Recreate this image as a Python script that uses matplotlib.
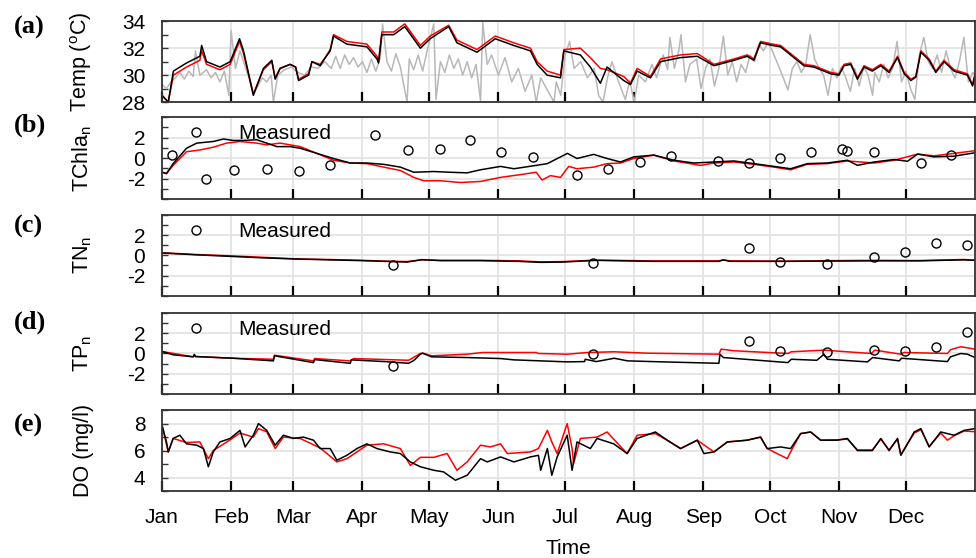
import matplotlib
matplotlib.use('Agg')
import matplotlib.pyplot as plt
from matplotlib.lines import Line2D
from matplotlib.ticker import MultipleLocator

plt.rcParams['font.family'] = ['Liberation Sans', 'DejaVu Sans']
plt.rcParams['mathtext.fontset'] = 'custom'
plt.rcParams['mathtext.rm'] = 'Liberation Sans'
plt.rcParams['mathtext.it'] = 'Liberation Sans:italic'
plt.rcParams['axes.unicode_minus'] = False

# ---------------- data ----------------
month_starts = [0, 31, 59, 90, 120, 151, 181, 212, 243, 273, 304, 334]
month_labels = ['Jan', 'Feb', 'Mar', 'Apr', 'May', 'Jun', 'Jul', 'Aug', 'Sep', 'Oct', 'Nov', 'Dec']

# (a) temperature
temp_days = [0, 2.8, 5.1, 11, 17, 17.8, 20, 26, 30.6, 34.8,
             36.6, 41, 45.5, 49.3, 50.8, 53, 57.5, 60, 61.3, 65.8,
             67.3, 71, 73.3, 75.5, 77, 83, 92, 96.5, 97.2, 98.7,
             104, 109, 116, 120.4, 128.7, 132.4, 141.4, 149.6, 157.9, 165.4,
             168.4, 172.9, 178.9, 180.4, 187.8, 192.3, 196.8, 199.8, 207.3, 210.3,
             213.3, 219.3, 223.8, 232.8, 240.3, 247.8, 256.8, 262.7, 265.7, 268.7,
             274.1, 277.7, 283.7, 288.2, 292.7, 300.2, 303.9, 306.2, 309.2, 312.2,
             315.2, 318.9, 322.7, 326.4, 330.2, 333.2, 336.2, 338.4, 340.7, 344.4,
             347.4, 351.1, 355.6, 361.6, 363.9, 365]
temp_black = [28.5, 28.0, 30.3, 30.9, 31.4, 32.2, 31.0, 30.6, 31.0, 32.7,
              31.8, 28.5, 30.5, 31.1, 29.7, 30.5, 30.8, 30.6, 29.6, 30.0,
              31.0, 30.7, 31.3, 31.8, 32.9, 32.3, 32.1, 31.2, 30.9, 33.0,
              33.0, 33.6, 32.0, 32.7, 33.6, 32.4, 31.7, 32.7, 32.2, 31.8,
              30.8, 30.0, 29.8, 31.8, 31.5, 30.6, 29.4, 30.6, 29.6, 29.3,
              30.3, 29.8, 31.0, 31.3, 31.4, 30.7, 31.1, 31.4, 31.1, 32.4,
              32.2, 32.1, 31.3, 30.7, 30.6, 30.1, 30.0, 30.7, 30.8, 29.7,
              30.6, 30.3, 30.7, 30.2, 31.3, 30.1, 29.6, 29.85, 31.7, 31.1,
              30.2, 31.0, 30.3, 30.0, 29.2, 30.0]
temp_red = [28.5, 28.0, 30.0, 30.6, 31.1, 31.8, 30.8, 30.4, 30.8, 32.5,
            31.6, 28.6, 30.4, 31.0, 29.8, 30.5, 30.8, 30.6, 29.7, 30.1,
            31.0, 30.8, 31.3, 31.9, 33.0, 32.5, 32.3, 31.4, 31.0, 33.2,
            33.2, 33.8, 32.2, 32.9, 33.7, 32.6, 31.9, 32.9, 32.4, 32.0,
            31.0, 30.3, 30.0, 31.9, 32.0, 31.3, 30.5, 30.4, 29.9, 29.4,
            30.5, 29.9, 31.2, 31.5, 31.6, 30.8, 31.2, 31.5, 31.2, 32.5,
            32.3, 32.2, 31.4, 30.8, 30.7, 30.2, 30.1, 30.8, 30.9, 29.8,
            30.7, 30.4, 30.8, 30.3, 31.4, 30.2, 29.7, 29.9, 31.8, 31.2,
            30.3, 31.1, 30.4, 30.1, 29.3, 30.1]
gray_days = [0, 2, 4, 6, 8, 10, 12, 14, 15, 17,
             20, 22, 24, 26, 28, 30, 31, 33, 35, 37,
             39, 41, 43, 45, 47, 49, 50, 52, 55, 58,
             61, 64, 67, 70, 73, 76, 78, 80, 82, 84,
             86, 88, 90, 92, 94, 96, 98, 99, 101, 103,
             105, 107, 110, 111, 113, 115, 117, 119, 122, 123,
             125, 127, 129, 131, 133, 135, 137, 139, 141, 143,
             144, 146, 148, 151, 154, 157, 160, 163, 166, 168,
             170, 172, 176, 177, 179, 181, 183, 185, 188, 191,
             194, 196, 198, 200, 202, 205, 208, 210, 212, 214,
             217, 220, 222, 225, 227, 228, 230, 232, 233, 235,
             237, 240, 242, 244, 246, 248, 250, 252, 254, 256,
             258, 260, 262, 264, 266, 268, 270, 272, 274, 276,
             278, 281, 283, 285, 287, 289, 291, 293, 295, 297,
             299, 301, 303, 305, 307, 309, 311, 313, 315, 317,
             319, 320, 322, 324, 326, 328, 330, 332, 334, 336,
             338, 340, 342, 344, 346, 348, 350, 352, 354, 356,
             358, 360, 362, 364, 365]
gray_vals = [29.3, 29.0, 29.5, 29.8, 30.2, 29.7, 30.3, 29.9, 31.8, 30.0,
             30.4, 29.8, 30.2, 29.5, 30.3, 28.5, 33.3, 30.5, 31.8, 30.8,
             29.8, 28.6, 29.2, 29.8, 29.5, 30.0, 28.0, 30.0, 30.4, 30.6,
             30.2, 30.0, 30.6, 30.5, 31.0, 30.5, 31.4, 30.5, 31.5, 30.8,
             31.3, 30.6, 31.0, 30.2, 31.2, 30.3, 31.3, 33.8, 31.0, 30.3,
             31.6, 30.6, 28.0, 31.2, 30.4, 31.5, 30.3, 31.8, 33.8, 28.2,
             31.0, 30.2, 31.5, 30.5, 31.2, 30.0, 31.0, 29.8, 30.8, 28.1,
             33.9, 30.8, 31.5, 30.0, 31.3, 29.5, 30.5, 28.8, 30.0, 28.0,
             29.8, 29.2, 28.0, 29.5, 28.5, 31.5, 32.5, 30.5, 31.0, 29.8,
             30.5, 28.5, 28.0, 29.8, 31.0, 29.5, 28.2, 29.6, 28.0, 30.0,
             29.5, 30.8, 29.8, 31.5, 30.4, 32.8, 30.5, 31.8, 33.0, 29.5,
             30.8, 31.2, 29.0, 30.5, 31.2, 29.2, 30.5, 32.9, 30.0, 31.0,
             29.5, 30.8, 30.2, 31.5, 31.0, 32.3, 31.8, 32.4, 31.8, 31.0,
             30.2, 28.9, 30.5, 31.0, 30.2, 30.8, 33.0, 31.2, 30.5, 30.0,
             28.5, 30.5, 29.8, 30.6, 29.8, 28.8, 30.5, 29.2, 30.6, 30.0,
             28.5, 30.2, 29.5, 30.8, 29.8, 30.5, 32.5, 29.5, 30.3, 29.0,
             28.2, 31.5, 32.8, 31.0, 30.5, 31.5, 30.2, 31.8, 30.5, 29.8,
             31.0, 32.8, 29.5, 30.2, 30.0]

# (b) TChla_n
chl_black_days = [0, 2, 5, 11, 15.6, 23, 27.6, 32, 36.6, 42.5,
                  47, 51.5, 57.5, 62, 69.5, 77, 84.5, 92, 99.5, 107,
                  113, 122, 129, 137, 143, 152, 158, 168, 173, 182,
                  186.3, 193.8, 199.8, 205.8, 211.8, 220.8, 229.8, 238.8, 247.8, 256.8,
                  265.7, 274.7, 282.2, 289.7, 298.7, 307.7, 312.2, 319.7, 328.7, 334.7,
                  339.2, 346.6, 355.6, 365]
chl_black = [-1.37, -1.5, -0.53, 0.97, 1.47, 1.63, 1.87, 1.73, 1.73, 1.8,
             1.47, 1.13, 1.13, 0.97, 0.47, -0.03, -0.47, -0.47, -0.6, -0.87,
             -1.37, -1.3, -1.37, -1.43, -1.13, -0.8, -1.03, -0.7, -0.53, 0.47,
             -0.03, 0.37, -0.03, -0.37, 0.13, 0.3, -0.2, -0.47, -0.37, -0.27,
             -0.53, -0.8, -1.03, -0.53, -0.47, -0.2, -0.7, -0.37, -0.13, -0.3,
             0.4, 0.13, 0.2, 0.53]
chl_red_days = [0, 2, 5, 11, 17, 23, 29, 35, 42.5, 47,
                53, 57.5, 62, 69.5, 77, 84.5, 92, 99.5, 107, 113,
                117.5, 125, 134, 143, 152, 161, 168, 170.6, 174.4, 178.9,
                182.6, 186.3, 193.8, 199.8, 205.8, 211.8, 220.8, 229.8, 241.8, 247.8,
                256.8, 265.7, 274.7, 282.2, 289.7, 298.7, 307.7, 319.7, 328.7, 339.2,
                346.6, 355.6, 365]
chl_red = [-1.37, -1.5, -0.7, 0.63, 0.8, 1.07, 1.47, 1.63, 1.47, 1.3,
           1.47, 1.3, 1.13, 0.47, -0.2, -0.47, -0.53, -0.87, -1.2, -1.87,
           -2.2, -2.2, -2.37, -2.27, -1.87, -1.6, -1.37, -2.13, -1.7, -1.87,
           -0.8, -1.03, -0.87, -0.53, -0.47, -0.03, 0.3, -0.27, -0.7, -0.47,
           -0.37, -0.6, -0.87, -1.13, -0.6, -0.53, -0.27, -0.47, -0.2, 0.4,
           0.23, 0.47, 0.73]
chl_meas_days = [4.6, 19.6, 32.5, 47.3, 61.6, 75.5, 95.7, 110.3, 124.6, 138.4,
                 152.3, 166.4, 186.3, 200.3, 214.5, 228.4, 249.6, 263.5, 277.4, 291.5,
                 305.4, 307.4, 319.7, 340.7, 354.1]
chl_meas = [0.3, -2.03, -1.13, -1.07, -1.23, -0.63, 2.23, 0.83, 0.87, 1.73,
            0.63, 0.07, -1.6, -1.1, -0.37, 0.23, -0.27, -0.47, 0.0, 0.57,
            0.9, 0.73, 0.57, -0.47, 0.3]

# (c) TN_n
tn_days = [0, 15, 30, 45, 60, 75, 90, 100, 110, 116.7,
           125, 143, 160, 170, 180, 195, 220, 250, 252, 255,
           280, 300, 320, 340, 360, 365]
tn_black = [0.23, 0.05, -0.1, -0.25, -0.37, -0.45, -0.53, -0.6, -0.67, -0.43,
            -0.53, -0.53, -0.6, -0.7, -0.67, -0.5, -0.6, -0.6, -0.45, -0.6,
            -0.6, -0.57, -0.55, -0.55, -0.45, -0.5]
tn_red = [0.25, 0.08, -0.05, -0.2, -0.35, -0.42, -0.5, -0.58, -0.62, -0.45,
          -0.5, -0.5, -0.55, -0.65, -0.62, -0.48, -0.55, -0.55, -0.47, -0.55,
          -0.58, -0.53, -0.5, -0.52, -0.42, -0.48]
tn_meas_days = [103.7, 193.5, 263.5, 277.4, 298.7, 319.7, 333.5, 347.4, 361.6]
tn_meas = [-0.97, -0.8, 0.7, -0.7, -0.87, -0.13, 0.3, 1.23, 1.03]

# (d) TP_n
tp_black_days = [0, 5, 14, 14.5, 15, 32, 50, 50.5, 68, 68.5,
                 84.5, 85, 100, 110.7, 113, 116, 117, 121, 137, 152,
                 158, 182, 189.7, 190, 195, 203, 209, 225, 250, 250.5,
                 252, 281, 282.5, 294, 297.2, 298.7, 316.7, 319, 331, 332,
                 352.6, 354, 358.6, 361.6, 365]
tp_black = [0.2, -0.13, -0.33, -0.1, -0.3, -0.47, -0.73, -0.23, -0.9, -0.6,
            -0.97, -0.63, -0.8, -0.97, -0.7, -0.07, 0.03, -0.33, -0.4, -0.5,
            -0.63, -0.83, -0.8, -0.57, -0.8, -0.47, -0.73, -0.83, -0.97, -0.07,
            -0.4, -0.9, -0.57, -0.67, -0.07, -0.57, -0.83, -0.4, -0.73, -0.47,
            -0.8, -0.33, 0.0, -0.07, -0.4]
tp_red_days = [0, 14, 14.5, 15, 32, 50, 50.5, 68, 68.5, 84.5,
               86, 110.7, 116, 117, 121, 137, 144, 152, 168, 169,
               182, 191, 203, 218, 250, 251, 256.8, 281, 282.5, 297.2,
               318.5, 320, 331.7, 333, 352.6, 354, 358.6, 365]
tp_red = [0.2, -0.33, -0.1, -0.3, -0.47, -0.57, -0.17, -0.73, -0.5, -0.73,
          -0.5, -0.67, 0.0, 0.03, -0.23, -0.07, 0.1, 0.1, 0.1, 0.0,
          -0.07, 0.1, 0.17, 0.03, -0.07, 0.43, 0.27, 0.0, 0.17, 0.33,
          0.0, 0.33, -0.07, 0.1, 0.0, 0.37, 0.67, 0.43]
tp_meas_days = [103.7, 193.5, 263.5, 277.4, 298.7, 319.7, 333.5, 347.4, 361.6]
tp_meas = [-1.23, -0.07, 1.2, 0.27, 0.1, 0.37, 0.2, 0.63, 2.1]

# (e) DO
do_black_days = [0, 2, 2.8, 5, 8, 11, 15.6, 18.6, 20.8, 23,
                 26, 30.6, 35, 37.3, 41, 43.3, 47, 50.8, 54.5, 59,
                 63.5, 68, 71, 75.5, 78.5, 83, 87.5, 92, 96.5, 102.5,
                 107, 111.5, 116, 122, 126.4, 131.7, 137, 143, 146, 152,
                 158, 165.4, 169, 170, 173, 175, 177.4, 181.9, 184.1, 186.3,
                 192.3, 195.3, 202.8, 208.8, 213.3, 221.5, 226.8, 232.8, 240.3, 243.3,
                 247.8, 253.8, 262.7, 268.7, 271.7, 277.7, 282.2, 286.7, 291.2, 295.7,
                 303.2, 307.7, 312.2, 318.9, 322.7, 326.4, 330.2, 331.7, 337.7, 340.7,
                 344.4, 349.6, 355.6, 360.1, 365]
do_black = [7.88, 6.64, 5.9, 6.9, 7.14, 6.5, 6.4, 6.15, 4.8, 5.9,
            6.64, 6.9, 7.5, 6.27, 7.14, 8.0, 7.5, 6.4, 7.14, 6.9,
            7.0, 6.77, 6.15, 6.15, 5.28, 5.65, 6.15, 6.5, 6.15, 5.9,
            5.78, 5.16, 4.8, 4.54, 4.42, 3.8, 4.17, 5.4, 5.16, 5.53,
            5.16, 5.53, 5.65, 4.54, 6.15, 4.17, 5.53, 7.14, 4.54, 6.64,
            6.15, 6.9, 6.5, 5.78, 6.9, 7.38, 6.77, 6.15, 6.77, 5.78,
            5.9, 6.64, 6.77, 7.0, 6.15, 6.27, 6.15, 7.26, 7.38, 6.77,
            6.77, 6.9, 6.0, 6.0, 6.9, 6.0, 6.9, 5.65, 7.38, 7.63,
            6.27, 7.38, 7.14, 7.5, 7.63]
do_red_days = [0, 2.8, 5, 11, 17, 20.8, 23, 30.6, 35, 41,
               43.3, 47, 50.8, 54.5, 62, 71, 78.5, 83, 92, 99.5,
               107, 111.5, 116, 122, 128, 132.4, 137, 143, 147.4, 152,
               155, 165.4, 169, 173, 175, 177.4, 181.9, 184.1, 184.8, 187.8,
               195.3, 199.8, 208.8, 213.3, 221.5, 226.8, 232.8, 240.3, 247.8, 253.8,
               262.7, 268.7, 271.7, 280.7, 282.2, 286.7, 291.2, 295.7, 303.2, 307.7,
               312.2, 318.9, 322.7, 326.4, 330.2, 331.7, 337.7, 340.7, 344.4, 349.6,
               352.6, 355.6, 360.1, 365]
do_red = [7.88, 5.9, 6.9, 6.6, 6.64, 5.4, 6.0, 6.8, 7.3, 7.0,
          7.63, 7.4, 6.15, 7.0, 6.9, 6.2, 5.16, 5.4, 6.4, 6.5,
          6.15, 4.9, 5.5, 5.5, 5.78, 4.54, 5.16, 6.4, 6.27, 6.5,
          5.78, 5.9, 6.15, 7.5, 6.64, 5.78, 8.0, 6.15, 5.04, 6.9,
          7.0, 7.38, 5.78, 7.14, 7.26, 6.77, 6.15, 6.77, 5.9, 6.64,
          6.77, 7.0, 6.15, 5.4, 5.9, 7.26, 7.38, 6.77, 6.8, 6.85,
          6.05, 6.05, 6.85, 6.05, 6.85, 5.7, 7.3, 7.55, 6.3, 7.3,
          6.77, 7.1, 7.45, 7.4]

# ---------------- figure ----------------
fig = plt.figure(figsize=(9.76, 5.58), dpi=100)
left, right = 0.166, 0.999
boxes = [(0.817, 0.962), (0.643, 0.790), (0.470, 0.615), (0.294, 0.439), (0.120, 0.265)]
axes = [fig.add_axes([left, b, right - left, t - b]) for b, t in boxes]

panel_tags = ['(a)', '(b)', '(c)', '(d)', '(e)']
tag_y = [0.950, 0.776, 0.595, 0.423, 0.238]
ylabels = [r'Temp ($^{\mathrm{o}}$C)', r'TChla$_{\mathrm{n}}$', r'TN$_{\mathrm{n}}$',
           r'TP$_{\mathrm{n}}$', 'DO (mg/l)']
ylims = [(28, 34), (-4, 4), (-4, 4), (-4, 4), (3, 9)]
yticks = [[28, 30, 32, 34], [-2, 0, 2], [-2, 0, 2], [-2, 0, 2], [4, 6, 8]]

FS = 15
for i, ax in enumerate(axes):
    ax.set_xlim(0, 365)
    ax.set_ylim(*ylims[i])
    ax.set_xticks(month_starts)
    ax.set_yticks(yticks[i])
    ax.yaxis.set_minor_locator(MultipleLocator(1))
    ax.grid(True, which='major', color='#e2e2e2', lw=1.2)
    ax.set_axisbelow(True)
    ax.tick_params(axis='x', which='both', direction='in', length=7, width=1.6,
                   bottom=True, top=False, color='k', labelsize=FS, pad=12,
                   labelbottom=(i == 4))
    ax.tick_params(axis='y', which='both', direction='in', length=4, width=1,
                   left=True, right=False, color='#333333', labelsize=FS, pad=12)
    for s in ax.spines.values():
        s.set_color('#333333')
        s.set_linewidth(1.3)
    ax.set_ylabel(ylabels[i], fontsize=15.5)
    ax.yaxis.set_label_coords(-0.084, 0.5)
    fig.text(0.014, tag_y[i], panel_tags[i], fontfamily='Liberation Serif',
             fontweight='bold', fontsize=19, va='center', ha='left')

axes[4].set_xticklabels(month_labels)
axes[4].set_xlabel('Time', fontsize=FS, labelpad=9)

lw = 1.1
axes[0].plot(gray_days, gray_vals, color='#b8b8b8', lw=lw)
axes[0].plot(temp_days, temp_red, color='red', lw=lw)
axes[0].plot(temp_days, temp_black, color='black', lw=lw)

axes[1].plot(chl_red_days, chl_red, color='red', lw=lw)
axes[1].plot(chl_black_days, chl_black, color='black', lw=lw)
axes[1].plot(chl_meas_days, chl_meas, 'o', mfc='none', mec='black', ms=6.5, mew=1)

axes[2].plot(tn_days, tn_red, color='red', lw=lw)
axes[2].plot(tn_days, tn_black, color='black', lw=lw)
axes[2].plot(tn_meas_days, tn_meas, 'o', mfc='none', mec='black', ms=6.5, mew=1)

axes[3].plot(tp_red_days, tp_red, color='red', lw=lw)
axes[3].plot(tp_black_days, tp_black, color='black', lw=lw)
axes[3].plot(tp_meas_days, tp_meas, 'o', mfc='none', mec='black', ms=6.5, mew=1)

axes[4].plot(do_red_days, do_red, color='red', lw=lw)
axes[4].plot(do_black_days, do_black, color='black', lw=lw)

for ax in axes[1:4]:
    h = Line2D([], [], marker='o', ls='none', mfc='none', mec='black', ms=6.5, mew=1)
    ax.legend([h], ['Measured'], loc='center left', bbox_to_anchor=(0.0287, 0.795),
              frameon=False, borderpad=0, borderaxespad=0, handlelength=1.0,
              handletextpad=1.55, fontsize=FS)

fig.savefig('out.png', dpi=100)
